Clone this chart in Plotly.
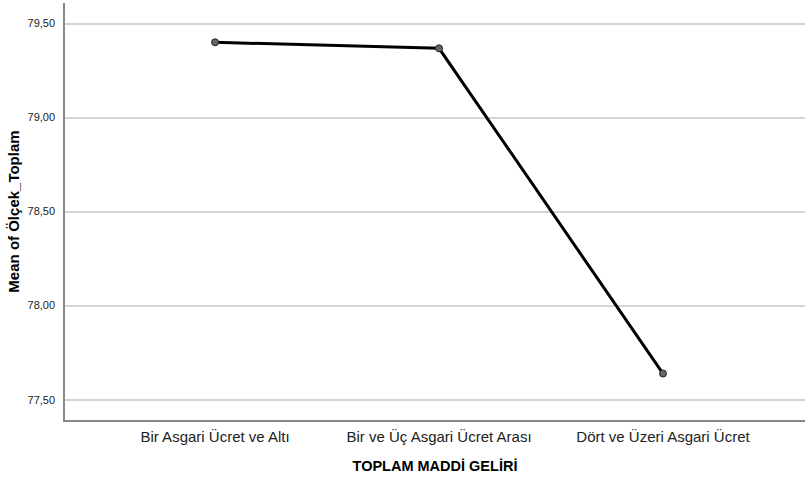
import plotly.graph_objects as go

categories = ["Bir Asgari Ücret ve Altı", "Bir ve Üç Asgari Ücret Arası", "Dört ve Üzeri Asgari Ücret"]
means = [79.40, 79.368, 77.639]
y_ticks = [77.5, 78.0, 78.5, 79.0, 79.5]
y_tick_labels = ["77,50", "78,00", "78,50", "79,00", "79,50"]

fig = go.Figure()
fig.add_trace(go.Scatter(
    x=list(range(len(categories))), y=means, mode="lines+markers",
    line=dict(color="black", width=3),
    marker=dict(size=7, color="#666666", line=dict(color="#222222", width=1)),
    showlegend=False, hoverinfo="skip"))

fig.update_layout(
    width=805, height=480,
    margin=dict(l=65, r=0, t=3, b=60),
    plot_bgcolor="white", paper_bgcolor="white",
    font=dict(family="Liberation Sans, Arial, sans-serif", color="#222222"),
)
fig.update_xaxes(
    range=[-0.67, 2.634], tickmode="array", tickvals=list(range(len(categories))),
    ticktext=categories, tickfont=dict(size=15, color="#222222"),
    showgrid=False, zeroline=False, showline=True, linecolor="#888888", linewidth=1.5,
    ticks="", ticklabelstandoff=2, automargin=False,
    title=dict(text="<b>TOPLAM MADDİ GELİRİ</b>", font=dict(size=14.5, color="black"), standoff=17),
)
fig.update_yaxes(
    range=[77.392, 79.609], tickmode="array", tickvals=y_ticks, ticktext=y_tick_labels,
    tickfont=dict(size=11, color="#222222"),
    showgrid=True, gridcolor="#d4d4d4", gridwidth=1.5, zeroline=False,
    showline=True, linecolor="#888888", linewidth=1.5, ticks="", ticklabelstandoff=6,
    automargin=False,
    title=dict(text="<b>Mean of Ölçek_Toplam</b>", font=dict(size=15, color="black"), standoff=4),
)
fig.write_html("out.html", config={"displayModeBar": False},
               post_script="document.body.style.margin='0';")
